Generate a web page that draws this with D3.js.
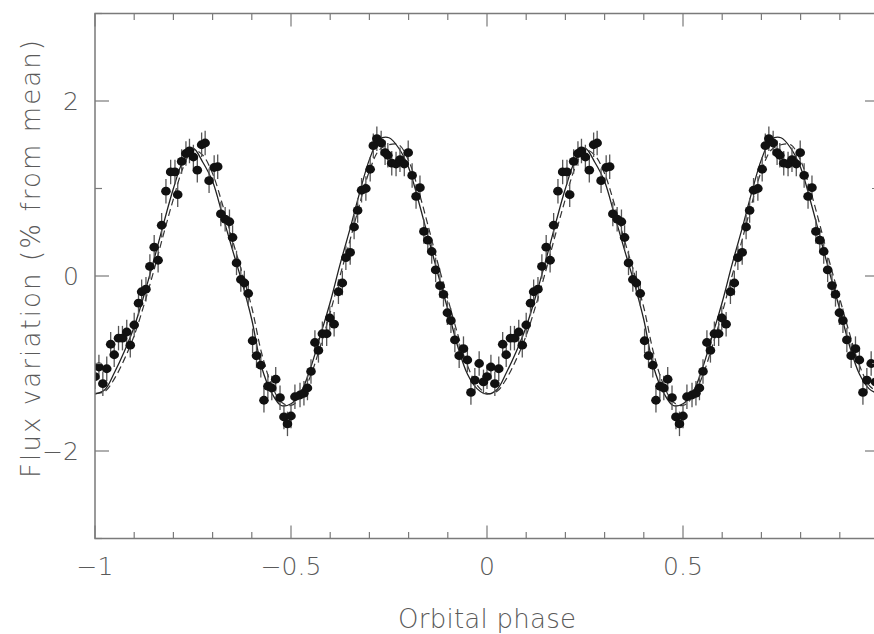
<!DOCTYPE html>
<html>
<head>
<meta charset="utf-8">
<script src="https://cdn.jsdelivr.net/npm/d3@7"></script>
<style>
  body { margin: 0; background: #fff; }
  text { font-family: "DejaVu Sans ExtraLight", "DejaVu Sans", sans-serif; font-weight: 200; fill: #5a5a5a; }
</style>
</head>
<body>
<svg id="chart" width="874" height="634"></svg>
<script>
// one orbital cycle of measurements, phase in [-1, 0); drawn again shifted by +1
const phases = [-1.000, -0.990, -0.980, -0.970, -0.960, -0.951, -0.940, -0.930, -0.919, -0.910,
  -0.900, -0.889, -0.881, -0.870, -0.860, -0.849, -0.839, -0.830, -0.819, -0.807,
  -0.796, -0.789, -0.779, -0.768, -0.759, -0.749, -0.739, -0.728, -0.719, -0.709,
  -0.696, -0.687, -0.679, -0.668, -0.657, -0.649, -0.639, -0.628, -0.619, -0.609,
  -0.598, -0.588, -0.577, -0.569, -0.559, -0.549, -0.539, -0.528, -0.518, -0.509,
  -0.500, -0.490, -0.477, -0.467, -0.458, -0.449, -0.439, -0.430, -0.420, -0.409,
  -0.401, -0.390, -0.379, -0.369, -0.360, -0.349, -0.339, -0.330, -0.320, -0.309,
  -0.298, -0.290, -0.281, -0.270, -0.260, -0.253, -0.243, -0.232, -0.222, -0.211,
  -0.201, -0.191, -0.181, -0.171, -0.161, -0.151, -0.141, -0.131, -0.120, -0.111,
  -0.101, -0.092, -0.082, -0.071, -0.060, -0.050, -0.041, -0.031, -0.020, -0.009]
const fluxes = [-1.15, -1.04, -1.23, -1.06, -0.78, -0.90, -0.71, -0.71, -0.64, -0.79,
  -0.56, -0.31, -0.18, -0.15, 0.11, 0.33, 0.18, 0.58, 0.97, 1.19,
  1.19, 0.93, 1.31, 1.40, 1.43, 1.36, 1.21, 1.50, 1.52, 1.09,
  1.24, 1.25, 0.71, 0.65, 0.62, 0.44, 0.15, -0.04, -0.08, -0.20,
  -0.74, -0.91, -1.02, -1.42, -1.26, -1.28, -1.18, -1.39, -1.61, -1.69,
  -1.60, -1.38, -1.36, -1.34, -1.28, -1.09, -0.76, -0.85, -0.66, -0.66,
  -0.48, -0.55, -0.18, -0.08, 0.21, 0.27, 0.56, 0.75, 0.98, 1.00,
  1.22, 1.49, 1.57, 1.52, 1.41, 1.38, 1.29, 1.28, 1.33, 1.28,
  1.41, 1.15, 0.91, 1.01, 0.51, 0.41, 0.28, 0.07, -0.11, -0.21,
  -0.42, -0.51, -0.73, -0.91, -0.83, -0.96, -1.33, -1.19, -1.00, -1.21]
const errHalf = 0.14

// model curves over one cycle
const modelPhase = [-1.000, -0.975, -0.950, -0.925, -0.900, -0.875, -0.850, -0.825, -0.800, -0.775,
  -0.750, -0.725, -0.700, -0.675, -0.650, -0.625, -0.600, -0.575, -0.550, -0.525,
  -0.500, -0.475, -0.450, -0.425, -0.400, -0.375, -0.350, -0.325, -0.300, -0.275,
  -0.250, -0.225, -0.200, -0.175, -0.150, -0.125, -0.100, -0.075, -0.050, -0.025, 0.000]
const solidModel = [-1.35, -1.30, -1.10, -0.86, -0.58, -0.22, 0.18, 0.60, 1.00, 1.32,
  1.46, 1.30, 1.08, 0.70, 0.31, -0.07, -0.50, -1.04, -1.33, -1.48,
  -1.46, -1.33, -1.05, -0.68, -0.30, 0.13, 0.53, 0.95, 1.33, 1.56,
  1.58, 1.46, 1.24, 0.86, 0.44, 0.02, -0.38, -0.80, -1.12, -1.29, -1.35]
const dashedModel = [-1.34, -1.32, -1.17, -0.95, -0.68, -0.33, 0.06, 0.48, 0.88, 1.24,
  1.44, 1.38, 1.17, 0.82, 0.42, 0.04, -0.36, -0.88, -1.24, -1.44,
  -1.48, -1.38, -1.14, -0.80, -0.42, 0.00, 0.40, 0.82, 1.20, 1.44,
  1.50, 1.50, 1.32, 0.98, 0.57, 0.14, -0.26, -0.66, -1.02, -1.25, -1.34]

const xTicks = [-1, -0.5, 0, 0.5]
const yTicks = [-2, 0, 2]

const svg = d3.select('#chart')
const m = { left: 95, right: 879, top: 13.5, bottom: 538.5 }
const x = d3.scaleLinear().domain([-1, 1]).range([m.left, m.right])
const y = d3.scaleLinear().domain([-3, 3]).range([m.bottom, m.top])
const axisColor = '#7a7a7a'

svg.append('defs').append('clipPath').attr('id', 'clip')
  .append('rect').attr('x', m.left).attr('y', m.top)
  .attr('width', m.right - m.left).attr('height', m.bottom - m.top)

const plot = svg.append('g').attr('clip-path', 'url(#clip)')

// two copies of the cycle
const points = []
;[0, 1].forEach(shift => {
  phases.forEach((p, i) => points.push({ p: p + shift, f: fluxes[i] }))
})
const curveA = [], curveB = []
;[0, 1].forEach(shift => {
  modelPhase.forEach((p, i) => {
    if (shift === 1 && i === 0) return
    curveA.push({ p: p + shift, f: solidModel[i] })
    curveB.push({ p: p + shift, f: dashedModel[i] })
  })
})

const line = d3.line().x(d => x(d.p)).y(d => y(d.f)).curve(d3.curveCatmullRom)

plot.append('path').datum(curveB).attr('d', line)
  .attr('fill', 'none').attr('stroke', '#333').attr('stroke-width', 1.2)
  .attr('stroke-dasharray', '7,4')
plot.append('path').datum(curveA).attr('d', line)
  .attr('fill', 'none').attr('stroke', '#222').attr('stroke-width', 1.3)

// error bars
plot.selectAll('line.err').data(points).enter().append('line')
  .attr('class', 'err')
  .attr('x1', d => x(d.p)).attr('x2', d => x(d.p))
  .attr('y1', d => y(d.f - errHalf)).attr('y2', d => y(d.f + errHalf))
  .attr('stroke', '#555').attr('stroke-width', 1.3)

plot.selectAll('ellipse.pt').data(points).enter().append('ellipse')
  .attr('class', 'pt')
  .attr('cx', d => x(d.p)).attr('cy', d => y(d.f))
  .attr('rx', 4.8).attr('ry', 4.4)
  .attr('fill', '#111')

// frame
svg.append('rect').attr('x', m.left).attr('y', m.top)
  .attr('width', m.right - m.left).attr('height', m.bottom - m.top)
  .attr('fill', 'none').attr('stroke', axisColor).attr('stroke-width', 1.5)

// ticks, inward on all sides
const xMinor = d3.range(-10, 11).map(v => v / 10)
xMinor.forEach(v => {
  const major = Math.abs(v * 2 - Math.round(v * 2)) < 1e-9
  const len = major ? 13 : 6.5
  svg.append('line').attr('x1', x(v)).attr('x2', x(v)).attr('y1', m.bottom).attr('y2', m.bottom - len)
    .attr('stroke', axisColor).attr('stroke-width', 1.2)
  svg.append('line').attr('x1', x(v)).attr('x2', x(v)).attr('y1', m.top).attr('y2', m.top + len)
    .attr('stroke', axisColor).attr('stroke-width', 1.2)
})
d3.range(-3, 4).forEach(v => {
  const major = v % 2 === 0
  const len = major ? 14 : 7
  svg.append('line').attr('x1', m.left).attr('x2', m.left + len).attr('y1', y(v)).attr('y2', y(v))
    .attr('stroke', axisColor).attr('stroke-width', 1.2)
  svg.append('line').attr('x1', m.right).attr('x2', m.right - len).attr('y1', y(v)).attr('y2', y(v))
    .attr('stroke', axisColor).attr('stroke-width', 1.2)
})

const fmt = v => (v < 0 ? '\u2212' : '') + Math.abs(v)

svg.selectAll('text.xt').data(xTicks).enter().append('text')
  .attr('class', 'xt')
  .attr('x', d => x(d)).attr('y', 575)
  .attr('text-anchor', 'middle').attr('font-size', 25)
  .text(fmt)

svg.selectAll('text.yt').data(yTicks).enter().append('text')
  .attr('class', 'yt')
  .attr('x', 79).attr('y', d => y(d) + 9)
  .attr('text-anchor', 'end').attr('font-size', 25)
  .text(fmt)

svg.append('text').attr('x', 487).attr('y', 628)
  .attr('text-anchor', 'middle').attr('font-size', 26)
  .attr('textLength', 178).attr('lengthAdjust', 'spacing')
  .text('Orbital phase')

svg.append('text').attr('transform', 'translate(40,259) rotate(-90)')
  .attr('text-anchor', 'middle').attr('font-size', 26)
  .attr('textLength', 438).attr('lengthAdjust', 'spacing')
  .text('Flux variation (% from mean)')
</script>
</body>
</html>
